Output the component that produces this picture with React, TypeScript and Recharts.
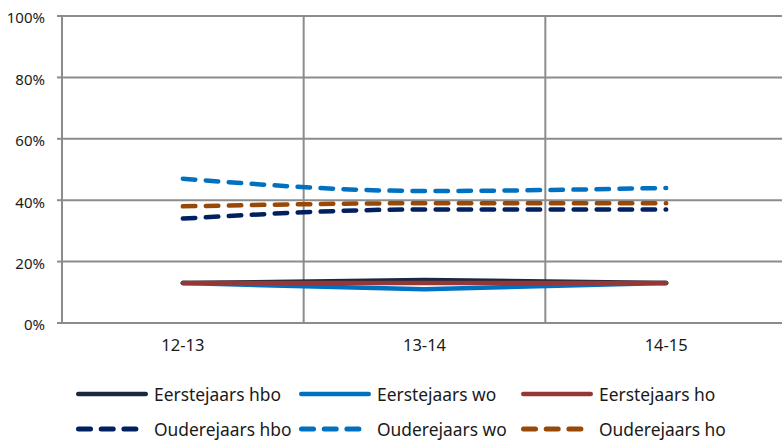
import { CartesianGrid, Legend, Line, LineChart, XAxis, YAxis } from "recharts";

const years = ["12-13", "13-14", "14-15"];
const eerstejaarsHbo = [13, 14, 13];
const eerstejaarsWo = [13, 11, 13];
const eerstejaarsHo = [13, 13, 13];
const ouderejaarsHbo = [34, 37, 37];
const ouderejaarsWo = [47, 43, 44];
const ouderejaarsHo = [38, 39, 39];
const yTicks = [0, 20, 40, 60, 80, 100];

const series = [
  { key: "eHbo", name: "Eerstejaars hbo", color: "#1a2940", dashed: false, values: eerstejaarsHbo },
  { key: "eWo", name: "Eerstejaars wo", color: "#0070c0", dashed: false, values: eerstejaarsWo },
  { key: "eHo", name: "Eerstejaars ho", color: "#953735", dashed: false, values: eerstejaarsHo },
  { key: "oHbo", name: "Ouderejaars hbo", color: "#002060", dashed: true, values: ouderejaarsHbo },
  { key: "oWo", name: "Ouderejaars wo", color: "#0070c0", dashed: true, values: ouderejaarsWo },
  { key: "oHo", name: "Ouderejaars ho", color: "#984807", dashed: true, values: ouderejaarsHo },
];

const data = years.map((year, i) => {
  const row: Record<string, string | number> = { year };
  series.forEach((s) => { row[s.key] = s.values[i]; });
  return row;
});

const FONT = "'Noto Sans', sans-serif";
const GRID = "#8c8c8c";
const CHART_W = 787;
const PLOT_LEFT = 62;
const PLOT_W = CHART_W - PLOT_LEFT;
// half a category band on each side, so points sit mid-band like Excel
const BAND_PAD = PLOT_W / 6;

function LegendBox({ payload }: { payload?: any[] }) {
  const items = [...(payload ?? [])].sort(
    (a, b) => series.findIndex((s) => s.key === a.dataKey) - series.findIndex((s) => s.key === b.dataKey)
  );
  return (
    <div
      style={{
        display: "grid",
        gridTemplateColumns: "223px 222px 223px",
        gridAutoRows: "35.5px",
        paddingLeft: 76,
        fontFamily: FONT,
        fontSize: 17.4,
        lineHeight: "18px",
        color: "#1a1a1a",
      }}
    >
      {items.map((p) => {
        const s = series.find((x) => x.key === p.dataKey);
        return (
          <div key={p.dataKey} style={{ display: "flex", alignItems: "center", whiteSpace: "nowrap" }}>
            <svg width={72} height={12} style={{ flex: "none" }}>
              {s?.dashed ? (
                <line x1={2.5} y1={6} x2={60} y2={6} stroke={p.color} strokeWidth={5} strokeLinecap="round" strokeDasharray="12 10.7" />
              ) : (
                <line x1={2.2} y1={6} x2={69.8} y2={6} stroke={p.color} strokeWidth={4.4} strokeLinecap="round" />
              )}
            </svg>
            <span style={{ marginLeft: 6 }}>{p.value}</span>
          </div>
        );
      })}
    </div>
  );
}

export default function App() {
  return (
    <div style={{ position: "absolute", left: 0, top: 0, width: 782, height: 440, overflow: "hidden", background: "#fff" }}>
      <LineChart width={CHART_W} height={440} data={data} margin={{ top: 16, right: 0, bottom: 87, left: 0 }}>
        <CartesianGrid
          stroke={GRID}
          strokeWidth={2}
          verticalCoordinatesGenerator={({ offset }: any) => [1, 2].map((i) => offset.left + (offset.width * i) / 3)}
        />
        <XAxis
          dataKey="year"
          height={30}
          padding={{ left: BAND_PAD, right: BAND_PAD }}
          tickLine={false}
          tickSize={0}
          tickMargin={16}
          axisLine={{ stroke: GRID, strokeWidth: 2 }}
          tick={{ fill: "#1a1a1a", fontSize: 16.5, fontFamily: FONT }}
        />
        <YAxis
          width={PLOT_LEFT}
          domain={[0, 100]}
          ticks={yTicks}
          interval={0}
          tickFormatter={(v: number) => `${v}%`}
          tickSize={5}
          tickMargin={12}
          tickLine={{ stroke: GRID, strokeWidth: 2 }}
          axisLine={{ stroke: GRID, strokeWidth: 2 }}
          tick={{ fill: "#1a1a1a", fontSize: 15, fontFamily: FONT, dy: 2 }}
        />
        {series.map((s) => (
          <Line
            key={s.key}
            dataKey={s.key}
            name={s.name}
            stroke={s.color}
            strokeWidth={4.5}
            strokeLinecap="round"
            strokeDasharray={s.dashed ? "12.5 10.5" : undefined}
            type={s.dashed ? "monotone" : "linear"}
            dot={false}
            activeDot={false}
            isAnimationActive={false}
          />
        ))}
        <Legend
          layout="vertical"
          verticalAlign="middle"
          align="center"
          wrapperStyle={{ left: 0, top: 376, width: 782, height: 76 }}
          content={(props: any) => <LegendBox payload={props.payload} />}
        />
      </LineChart>
    </div>
  );
}
